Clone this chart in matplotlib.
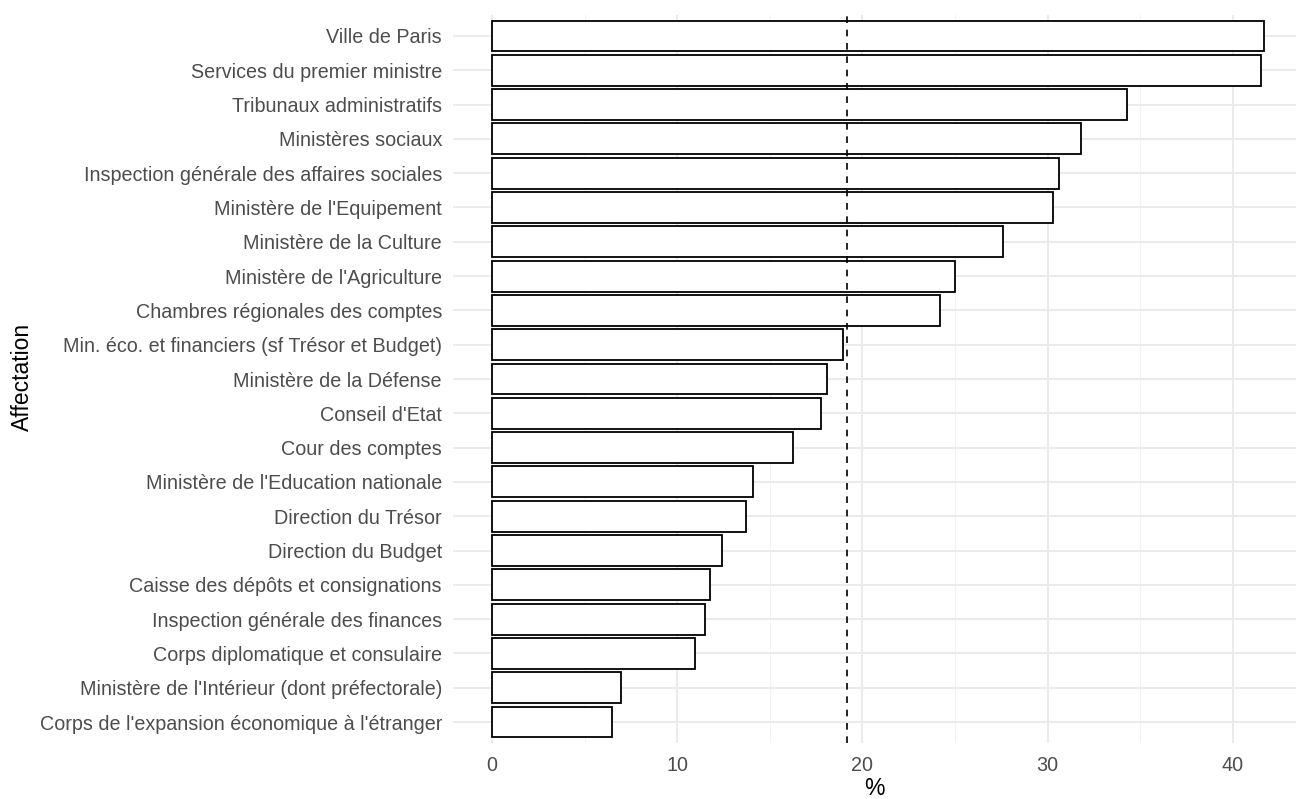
import numpy as np
import matplotlib.pyplot as plt

plt.rcParams['font.family'] = ['Liberation Sans', 'DejaVu Sans']

# categories from top to bottom
affectation = [
    "Ville de Paris",
    "Services du premier ministre",
    "Tribunaux administratifs",
    "Ministères sociaux",
    "Inspection générale des affaires sociales",
    "Ministère de l'Equipement",
    "Ministère de la Culture",
    "Ministère de l'Agriculture",
    "Chambres régionales des comptes",
    "Min. éco. et financiers (sf Trésor et Budget)",
    "Ministère de la Défense",
    "Conseil d'Etat",
    "Cour des comptes",
    "Ministère de l'Education nationale",
    "Direction du Trésor",
    "Direction du Budget",
    "Caisse des dépôts et consignations",
    "Inspection générale des finances",
    "Corps diplomatique et consulaire",
    "Ministère de l'Intérieur (dont préfectorale)",
    "Corps de l'expansion économique à l'étranger",
]
pct = [41.7, 41.5, 34.3, 31.8, 30.6, 30.3, 27.6, 25.0, 24.2, 18.95,
       18.1, 17.75, 16.25, 14.1, 13.7, 12.4, 11.8, 11.5, 10.95, 6.97, 6.48]
moyenne = 19.15

fig = plt.figure(figsize=(12.96, 7.99), dpi=100)
ax = fig.add_axes([453/1296, 1 - 742.6/799, 1 - 453/1296, (742.6 - 15.4)/799])

n = len(affectation)
ypos = np.arange(n)[::-1]

# grid (ggplot theme_minimal look)
for v in [5, 15, 25, 35]:
    ax.axvline(v, color="#F2F2F2", lw=0.8, zorder=0)
for v in [0, 10, 20, 30, 40]:
    ax.axvline(v, color="#EBEBEB", lw=1.4, zorder=0)
for y in ypos:
    ax.axhline(y, color="#EBEBEB", lw=1.4, zorder=0)

ax.barh(ypos, pct, height=0.9, color="white", edgecolor="black", lw=1.3, zorder=2)
ax.axvline(moyenne, color="black", ls=(0, (4, 4)), lw=1.2, zorder=3)

ax.set_xlim(-2.1, 43.41)
ax.set_ylim(-0.6, n - 0.4)
ax.set_xticks([0, 10, 20, 30, 40])
ax.set_yticks(ypos)
ax.set_yticklabels(affectation)
ax.tick_params(length=0, labelsize=14.2, labelcolor="#4D4D4D")
ax.tick_params(axis="y", pad=8)
ax.tick_params(axis="x", pad=10)
for s in ax.spines.values():
    s.set_visible(False)

ax.set_xlabel("%", fontsize=16.5, labelpad=1)
fig.text(22/1296, 1 - 377/799, "Affectation", rotation=90, fontsize=16.5,
         ha="center", va="center")

fig.savefig("out.png", dpi=100)
